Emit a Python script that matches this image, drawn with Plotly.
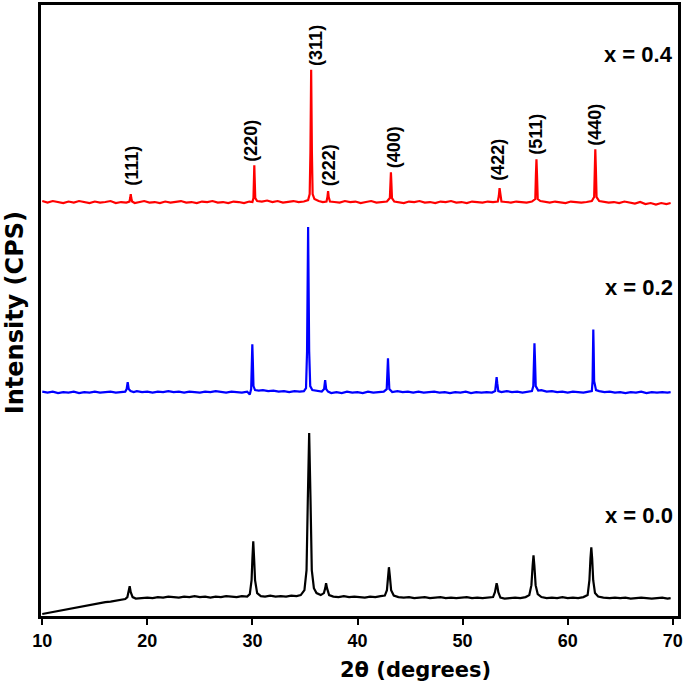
import plotly.graph_objects as go

# (2theta, intensity) points, intensities in arbitrary CPS
# (already offset for stacking)
x00 = [(10.0, 6), (10.5, 7), (11.0, 8.5), (11.5, 9), (12.0, 10.5), (12.5, 11), (13.0, 12.5), (13.5, 13),
       (14.0, 14.5), (14.5, 15.5), (15.0, 16.5), (15.5, 17), (16.0, 18), (16.5, 18.5), (17.0, 19.5),
       (17.5, 20), (17.9, 21), (18.1, 23), (18.22, 28), (18.32, 34), (18.42, 28), (18.6, 23), (18.9, 21.5),
       (19.5, 22), (20, 22.5), (20.5, 22), (21, 23), (21.5, 22.5), (22, 23.5), (22.5, 23), (23, 22.5),
       (23.5, 23.5), (24, 23), (24.5, 24), (25, 23), (25.5, 23.5), (26, 22.5), (26.5, 23.5), (27, 23),
       (27.5, 24), (28, 23.5), (28.5, 23), (29, 24), (29.5, 23.5), (29.75, 26), (29.92, 40), (30.0, 62),
       (30.08, 79), (30.16, 62), (30.25, 40), (30.45, 27), (30.8, 24), (31.2, 23.5), (31.7, 24.5),
       (32.2, 23.5), (32.7, 24), (33.2, 23.5), (33.7, 24.5), (34.2, 24), (34.6, 25), (34.95, 30),
       (35.15, 50), (35.27, 120), (35.4, 188), (35.53, 120), (35.65, 50), (35.85, 32), (36.1, 27),
       (36.5, 25), (36.8, 27), (36.93, 32), (37.01, 37), (37.1, 32), (37.3, 25), (37.7, 23.5), (38.2, 23),
       (38.7, 24), (39.2, 23), (39.7, 23.5), (40.2, 23), (40.7, 22.5), (41.2, 23.5), (41.7, 23), (42.2, 24),
       (42.6, 24.5), (42.8, 30), (42.92, 45), (42.99, 53), (43.07, 45), (43.2, 30), (43.45, 24.5),
       (43.9, 23), (44.4, 22.5), (44.9, 23), (45.4, 22), (45.9, 22.5), (46.4, 23), (46.9, 22), (47.4, 22.5),
       (47.9, 23), (48.4, 22), (48.9, 22.5), (49.4, 22), (49.9, 22.5), (50.4, 23), (50.9, 22), (51.4, 22.5),
       (51.9, 22), (52.4, 22.5), (52.9, 23), (53.08, 28), (53.17, 34), (53.24, 37), (53.31, 34), (53.4, 28),
       (53.6, 22.5), (54.0, 21.5), (54.5, 22), (55.0, 22.5), (55.5, 22), (56.0, 23), (56.35, 25),
       (56.55, 35), (56.67, 55), (56.75, 65), (56.83, 55), (56.95, 35), (57.15, 26), (57.5, 23), (58.0, 22),
       (58.5, 22.5), (59, 22), (59.5, 23), (60, 22), (60.5, 22.5), (61, 22), (61.5, 23), (61.9, 25),
       (62.07, 40), (62.17, 62), (62.25, 73), (62.33, 62), (62.43, 40), (62.6, 27), (62.9, 23.5),
       (63.4, 22.5), (64, 22), (64.5, 22.5), (65, 22), (65.5, 22.5), (66, 21.5), (66.5, 22), (67, 22.5),
       (67.5, 22), (68, 21.5), (68.5, 22), (69, 22.5), (69.5, 21.5), (69.8, 22)]

x02 = [(10.0, 229.5), (10.5, 228.5), (11, 229.5), (11.5, 228), (12, 229), (12.5, 228.5), (13, 229.5),
       (13.5, 228), (14, 229), (14.5, 228.5), (15, 229.5), (15.5, 228.5), (16, 229), (16.5, 229.5),
       (17, 228.5), (17.5, 229), (17.9, 229.5), (18.03, 232), (18.13, 239), (18.23, 232), (18.4, 230),
       (18.7, 229), (19, 230), (19.5, 229), (20, 229.5), (20.5, 228.5), (21, 229.5), (21.5, 229), (22, 230),
       (22.5, 229), (23, 229.5), (23.5, 228.5), (24, 229.5), (24.5, 229), (25, 228.5), (25.5, 229.5),
       (26, 229), (26.5, 230), (27, 229), (27.5, 228.5), (28, 229.5), (28.5, 229), (29, 228.5),
       (29.5, 229.5), (29.75, 226.5), (29.88, 232), (29.94, 260), (29.99, 277), (30.04, 260), (30.1, 235),
       (30.25, 231), (30.6, 230.5), (31, 231), (31.5, 230), (32, 230.5), (32.5, 229.5), (33, 230),
       (33.5, 229), (34, 230), (34.5, 229.5), (34.9, 230), (35.1, 233), (35.2, 270), (35.3, 395),
       (35.4, 270), (35.5, 235), (35.7, 231), (36.2, 230), (36.6, 229.5), (36.82, 232), (36.92, 241),
       (37.02, 232), (37.2, 229.5), (37.5, 228), (38, 229), (38.5, 228), (39, 229.5), (39.5, 228.5),
       (40, 229), (40.5, 228), (41, 229.5), (41.5, 228.5), (42, 229), (42.5, 229.5), (42.78, 232),
       (42.85, 250), (42.9, 263), (42.95, 250), (43.03, 232), (43.3, 229), (43.8, 230), (44.3, 229),
       (44.8, 229.5), (45.3, 228.5), (45.8, 229.5), (46.3, 228.5), (46.8, 229), (47.3, 229.5),
       (47.8, 228.5), (48.3, 229), (48.8, 228), (49.3, 229), (49.8, 228.5), (50.3, 229.5), (50.8, 228),
       (51.3, 229), (51.8, 228.5), (52.3, 229), (52.8, 228.5), (53.1, 230), (53.18, 238), (53.24, 244),
       (53.3, 238), (53.4, 230), (53.7, 229), (54.2, 230), (54.7, 229), (55.2, 229.5), (55.7, 228.5),
       (56.2, 229.5), (56.6, 230), (56.73, 235), (56.79, 262), (56.84, 278), (56.89, 262), (56.96, 235),
       (57.2, 230.5), (57.5, 231), (58, 229.5), (58.5, 230), (59, 229), (59.5, 229.5), (60, 228.5),
       (60.5, 229.5), (61, 229), (61.5, 228.5), (62, 229.5), (62.3, 230), (62.37, 240), (62.41, 275),
       (62.44, 292), (62.47, 275), (62.52, 240), (62.7, 231), (63, 230), (63.5, 229), (64, 229.5),
       (64.5, 228.5), (65, 229), (65.5, 228), (66, 229), (66.5, 228.5), (67, 229.5), (67.5, 228),
       (68, 229), (68.5, 228.5), (69, 229), (69.5, 228.5), (69.8, 229)]

x04 = [(10.0, 421), (10.5, 419.5), (11, 421), (11.5, 420), (12, 419), (12.5, 420.5), (13, 419.5),
       (13.5, 421), (14, 420), (14.5, 419), (15, 420.5), (15.5, 419.5), (16, 420), (16.5, 421), (17, 419),
       (17.5, 420), (18, 419.5), (18.3, 420.5), (18.37, 424), (18.42, 428), (18.47, 424), (18.55, 420.5),
       (18.8, 419), (19.2, 420), (19.7, 421), (20.2, 419.5), (20.7, 420), (21.2, 419), (21.7, 420.5),
       (22.2, 419.5), (22.7, 420), (23.2, 421), (23.7, 419.5), (24.2, 420), (24.7, 419), (25.2, 420.5),
       (25.7, 420), (26.2, 421), (26.7, 419.5), (27.2, 420), (27.7, 419), (28.2, 420.5), (28.7, 420),
       (29.2, 419), (29.7, 420.5), (30.0, 420), (30.1, 424), (30.15, 445), (30.18, 457), (30.21, 445),
       (30.27, 424), (30.45, 421), (30.9, 420.5), (31.4, 421.5), (31.9, 420), (32.4, 421), (32.9, 419.5),
       (33.4, 420.5), (33.9, 421), (34.4, 420), (34.9, 420.5), (35.3, 422), (35.45, 428), (35.52, 470),
       (35.59, 553), (35.66, 470), (35.73, 428), (35.9, 423), (36.3, 421), (36.7, 420), (37.05, 420.5),
       (37.14, 425), (37.2, 431), (37.26, 425), (37.38, 420.5), (37.8, 420), (38.3, 419.5), (38.8, 421),
       (39.3, 420), (39.8, 420.5), (40.3, 419), (40.8, 420), (41.3, 421), (41.8, 419.5), (42.3, 420),
       (42.8, 420.5), (43.08, 424), (43.14, 440), (43.18, 450), (43.22, 440), (43.28, 424), (43.5, 420.5),
       (43.9, 420), (44.4, 419), (44.9, 420.5), (45.4, 420), (45.9, 421), (46.4, 419.5), (46.9, 420),
       (47.4, 419), (47.9, 420.5), (48.4, 420), (48.9, 421), (49.4, 419.5), (49.9, 420), (50.4, 419),
       (50.9, 420.5), (51.4, 420), (51.9, 419.5), (52.4, 420.5), (52.9, 420), (53.35, 420.5),
       (53.45, 426), (53.52, 434), (53.59, 426), (53.7, 420.5), (54.1, 420), (54.6, 419.5), (55.1, 420.5),
       (55.6, 420), (56.1, 419.5), (56.6, 420.5), (56.92, 423), (56.98, 448), (57.03, 463), (57.08, 448),
       (57.15, 423), (57.4, 421), (57.8, 420), (58.3, 419.5), (58.8, 420.5), (59.3, 420), (59.8, 419),
       (60.3, 420.5), (60.8, 420), (61.3, 419.5), (61.8, 420), (62.3, 421), (62.52, 425), (62.58, 455),
       (62.63, 473), (62.68, 455), (62.75, 425), (63.0, 421), (63.4, 420), (63.9, 419.5), (64.4, 420),
       (64.9, 419), (65.4, 420.5), (65.9, 419.5), (66.4, 418.5), (66.9, 420), (67.4, 418), (67.9, 419),
       (68.4, 417.5), (68.9, 419), (69.4, 418), (69.8, 419)]

samples = ["x = 0.0", "x = 0.2", "x = 0.4"]
sample_colors = ["black", "#0000ff", "#ff0000"]
sample_label_y = [105, 334, 568]

# Miller indices marked on the x = 0.4 pattern
hkl = ["(111)", "(220)", "(311)", "(222)", "(400)", "(422)", "(511)", "(440)"]
hkl_x = [18.6, 29.9, 36.06, 37.3, 43.46, 53.43, 57.03, 62.63]
hkl_y = [456, 482, 577, 457, 475, 462, 488, 498]

ARIAL = "'Liberation Sans'"
TITLE_FONT = "'DejaVu Sans'"

fig = go.Figure()
for name, pts, col in zip(samples, [x00, x02, x04], sample_colors):
    fig.add_trace(go.Scatter(x=[p[0] for p in pts], y=[p[1] for p in pts], mode="lines",
                             name=name, line=dict(color=col, width=2.2)))

for lab, xx, yy in zip(hkl, hkl_x, hkl_y):
    fig.add_annotation(x=xx, y=yy, text=lab, showarrow=False, textangle=-90,
                       xanchor="center", yanchor="middle",
                       font=dict(family=ARIAL, size=18, color="black", weight="bold"))

for name, yy in zip(samples, sample_label_y):
    fig.add_annotation(xref="paper", x=0.995, y=yy, text=name, showarrow=False,
                       xanchor="right", yanchor="middle",
                       font=dict(family=ARIAL, size=22, color="black", weight="bold"))

# axis titles
fig.add_annotation(xref="paper", yref="paper", x=0.588, y=-0.088, text="2θ (degrees)",
                   showarrow=False, xanchor="center", yanchor="middle",
                   font=dict(family=TITLE_FONT, size=21, color="black", weight="bold"))
fig.add_annotation(xref="paper", yref="paper", x=-0.041, y=0.497, text="Intensity (CPS)",
                   showarrow=False, textangle=-90, xanchor="center", yanchor="middle",
                   font=dict(family=TITLE_FONT, size=24, color="black", weight="bold"))

fig.update_layout(width=685, height=685, showlegend=False,
                  margin=dict(l=41, r=5, t=2, b=69),
                  plot_bgcolor="white", paper_bgcolor="white")
fig.update_xaxes(range=[9.88, 70.5], tickvals=[10, 20, 30, 40, 50, 60, 70],
                 ticks="outside", ticklen=6, tickwidth=2, tickcolor="black",
                 showline=True, linewidth=3, linecolor="black", mirror=True,
                 showgrid=False, zeroline=False,
                 tickfont=dict(family=ARIAL, size=18, color="black", weight="bold"))
fig.update_yaxes(range=[4, 618], showticklabels=False, ticks="",
                 showline=True, linewidth=3, linecolor="black", mirror=True,
                 showgrid=False, zeroline=False)

# drop the default page margin so the figure sits at the window's corner
fig.write_html("out.html", config={"displayModeBar": False},
               post_script="document.body.style.margin='0px';")
